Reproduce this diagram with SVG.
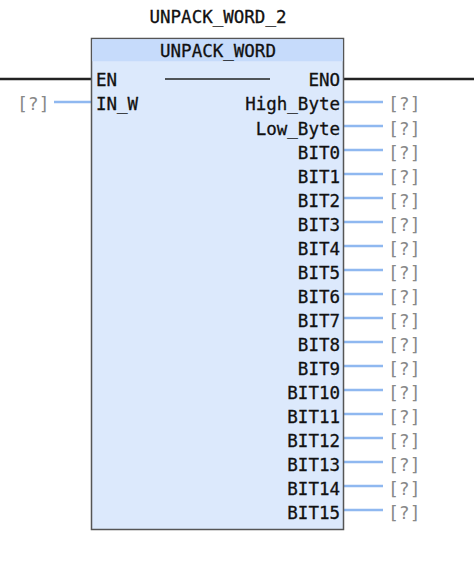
<svg xmlns="http://www.w3.org/2000/svg" width="474" height="566" viewBox="0 0 474 566">
<style>
text{font-family:"DejaVu Sans Mono","Liberation Mono",monospace;font-size:17.5px;fill:#111}
.b{stroke:#111;stroke-width:0.3}
.r{text-anchor:end}
.c{text-anchor:middle}
.q{fill:#888;font-size:18px}
.w{stroke:#8fb8f0;stroke-width:2.5;fill:none}
.k{stroke:#222;stroke-width:2.5;fill:none}
</style>
<rect width="474" height="566" fill="#fff"/>
<g id="connectors">
<line class="k" x1="0" y1="79" x2="91" y2="79"/>
<line class="k" x1="344" y1="79" x2="474" y2="79"/>
<line class="w" x1="54" y1="102" x2="91" y2="102"/>
<g class="w">
<line x1="344" y1="102" x2="383" y2="102"/>
<line x1="344" y1="126" x2="383" y2="126"/>
<line x1="344" y1="150" x2="383" y2="150"/>
<line x1="344" y1="174" x2="383" y2="174"/>
<line x1="344" y1="198" x2="383" y2="198"/>
<line x1="344" y1="222" x2="383" y2="222"/>
<line x1="344" y1="246" x2="383" y2="246"/>
<line x1="344" y1="270" x2="383" y2="270"/>
<line x1="344" y1="294" x2="383" y2="294"/>
<line x1="344" y1="318" x2="383" y2="318"/>
<line x1="344" y1="342" x2="383" y2="342"/>
<line x1="344" y1="366" x2="383" y2="366"/>
<line x1="344" y1="390" x2="383" y2="390"/>
<line x1="344" y1="414" x2="383" y2="414"/>
<line x1="344" y1="438" x2="383" y2="438"/>
<line x1="344" y1="462" x2="383" y2="462"/>
<line x1="344" y1="486" x2="383" y2="486"/>
<line x1="344" y1="510" x2="383" y2="510"/>
</g>
</g>
<g id="block">
<text class="c b" x="218" y="23">UNPACK_WORD_2</text>
<rect x="91.5" y="38.5" width="252" height="491" fill="#dce9fc" stroke="#555" stroke-width="1.5"/>
<rect x="92.25" y="39.25" width="250.5" height="22" fill="#c6dbfb"/>
<text class="c b" x="218" y="57">UNPACK_WORD</text>
<line x1="165" y1="79" x2="270" y2="79" stroke="#222" stroke-width="1.5"/>
<g class="b">
<text x="96" y="86">EN</text>
<text x="96" y="110">IN_W</text>
<text class="r" x="340" y="86">ENO</text>
<text class="r" x="340" y="110">High_Byte</text>
<text class="r" x="340" y="135">Low_Byte</text>
<text class="r" x="340" y="159">BIT0</text>
<text class="r" x="340" y="183">BIT1</text>
<text class="r" x="340" y="207">BIT2</text>
<text class="r" x="340" y="231">BIT3</text>
<text class="r" x="340" y="255">BIT4</text>
<text class="r" x="340" y="279">BIT5</text>
<text class="r" x="340" y="303">BIT6</text>
<text class="r" x="340" y="327">BIT7</text>
<text class="r" x="340" y="351">BIT8</text>
<text class="r" x="340" y="375">BIT9</text>
<text class="r" x="340" y="399">BIT10</text>
<text class="r" x="340" y="423">BIT11</text>
<text class="r" x="340" y="447">BIT12</text>
<text class="r" x="340" y="471">BIT13</text>
<text class="r" x="340" y="495">BIT14</text>
<text class="r" x="340" y="519">BIT15</text>
</g>
</g>
<g id="values">
<text class="q" x="17" y="110">[?]</text>
<text class="q" x="388" y="110">[?]</text>
<text class="q" x="388" y="135">[?]</text>
<text class="q" x="388" y="159">[?]</text>
<text class="q" x="388" y="183">[?]</text>
<text class="q" x="388" y="207">[?]</text>
<text class="q" x="388" y="231">[?]</text>
<text class="q" x="388" y="255">[?]</text>
<text class="q" x="388" y="279">[?]</text>
<text class="q" x="388" y="303">[?]</text>
<text class="q" x="388" y="327">[?]</text>
<text class="q" x="388" y="351">[?]</text>
<text class="q" x="388" y="375">[?]</text>
<text class="q" x="388" y="399">[?]</text>
<text class="q" x="388" y="423">[?]</text>
<text class="q" x="388" y="447">[?]</text>
<text class="q" x="388" y="471">[?]</text>
<text class="q" x="388" y="495">[?]</text>
<text class="q" x="388" y="519">[?]</text>
</g>
</svg>
